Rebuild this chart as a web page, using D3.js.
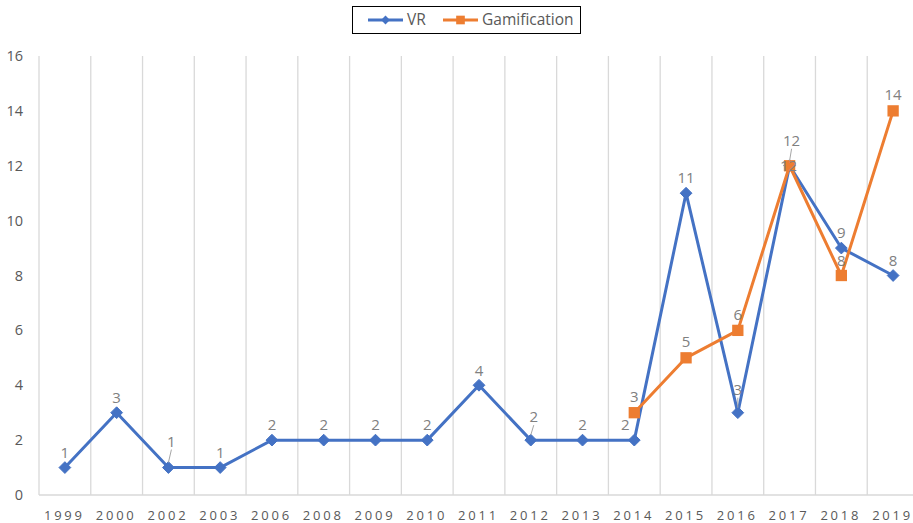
<!DOCTYPE html>
<html>
<head>
<meta charset="utf-8">
<script src="https://cdn.jsdelivr.net/npm/d3@7"></script>
<style>
  body { margin: 0; background: #fff; }
  svg { display: block; font-family: "Open Sans", "Liberation Sans", sans-serif; }
</style>
</head>
<body>
<div id="chart"></div>
<script>
const years = ["1999", "2000", "2002", "2003", "2006", "2008", "2009", "2010", "2011",
  "2012", "2013", "2014", "2015", "2016", "2017", "2018", "2019"]
const vrValues = [1, 3, 1, 1, 2, 2, 2, 2, 4, 2, 2, 2, 11, 3, 12, 9, 8]
const gamYears = ["2014", "2015", "2016", "2017", "2018", "2019"]
const gamValues = [3, 5, 6, 12, 8, 14]
const yTicks = [0, 2, 4, 6, 8, 10, 12, 14, 16]

// label nudges (px) for the crowded spots, [dx, dy, leader]
const vrLabelShift = { "2002": [3, -11, true], "2012": [3, -8, true], "2014": [-9, 0, false],
  "2016": [0, -8, true], "2017": [2, -10, true] }

const width = 913, height = 523
const margin = { top: 56, right: -6, bottom: 28, left: 39 }

const svg = d3.select("#chart").append("svg")
  .attr("width", width)
  .attr("height", height)

const x = d3.scaleBand()
  .domain(years)
  .range([margin.left, width - margin.right])

const y = d3.scaleLinear()
  .domain([0, 16])
  .range([height - margin.bottom, margin.top])

const cx = d => x(d) + x.bandwidth() / 2

// vertical gridlines at band edges
const edges = years.map(d => x(d))
svg.append("g").selectAll("line")
  .data(edges)
  .join("line")
    .attr("x1", d => d).attr("x2", d => d)
    .attr("y1", y(16)).attr("y2", y(0))
    .attr("stroke", "#d9d9d9")
    .attr("stroke-width", 1.3)

// bottom axis line
svg.append("line")
  .attr("x1", margin.left).attr("x2", width)
  .attr("y1", y(0)).attr("y2", y(0))
  .attr("stroke", "#d9d9d9")
  .attr("stroke-width", 1.3)

// y tick labels
svg.append("g").selectAll("text")
  .data(yTicks)
  .join("text")
    .attr("x", 23)
    .attr("y", d => y(d))
    .attr("dy", "0.35em")
    .attr("text-anchor", "end")
    .attr("fill", "#595959")
    .style("font-size", "14.5px")
    .text(d => d)

// x tick labels
svg.append("g").selectAll("text")
  .data(years)
  .join("text")
    .attr("x", d => cx(d) - 0.5)
    .attr("y", 515)
    .attr("dy", "0.35em")
    .attr("text-anchor", "middle")
    .attr("fill", "#595959")
    .style("font-size", "13px")
    .style("letter-spacing", "2.8px")
    .text(d => d)

const vrData = years.map((d, i) => ({ year: d, value: vrValues[i] }))
const gamData = gamYears.map((d, i) => ({ year: d, value: gamValues[i] }))

const line = d3.line()
  .x(d => cx(d.year))
  .y(d => y(d.value))

const diamond = d3.symbol().type(d3.symbolDiamond2).size(88)
const square = d3.symbol().type(d3.symbolSquare).size(128)

// VR series
svg.append("path")
  .datum(vrData)
  .attr("d", line)
  .attr("fill", "none")
  .attr("stroke", "#4472C4")
  .attr("stroke-width", 3)
  .attr("stroke-linejoin", "round")

svg.append("g").selectAll("path")
  .data(vrData)
  .join("path")
    .attr("d", diamond)
    .attr("transform", d => `translate(${cx(d.year)},${y(d.value)})`)
    .attr("fill", "#4472C4")
    .attr("stroke", "#4472C4")
    .attr("stroke-width", 1)

// Gamification series
svg.append("path")
  .datum(gamData)
  .attr("d", line)
  .attr("fill", "none")
  .attr("stroke", "#ED7D31")
  .attr("stroke-width", 3)
  .attr("stroke-linejoin", "round")

svg.append("g").selectAll("path")
  .data(gamData)
  .join("path")
    .attr("d", square)
    .attr("transform", d => `translate(${cx(d.year)},${y(d.value)})`)
    .attr("fill", "#ED7D31")

// data labels
const labels = svg.append("g")
  .attr("fill", "#808080")
  .style("font-size", "15px")
  .attr("text-anchor", "middle")

vrData.forEach(d => {
  const s = vrLabelShift[d.year] || [0, 0, false]
  const px = cx(d.year), py = y(d.value)
  const lx = px + s[0], ly = py - 15 + s[1]
  if (s[2]) {
    labels.append("line")
      .attr("x1", px).attr("y1", py - 5)
      .attr("x2", lx).attr("y2", ly + 8)
      .attr("stroke", "#a6a6a6")
      .attr("stroke-width", 1)
  }
  labels.append("text")
    .attr("x", lx)
    .attr("y", ly)
    .attr("dy", "0.35em")
    .text(d.value)
})

gamData.forEach(d => {
  const px = cx(d.year), py = y(d.value)
  const dy = d.year === "2017" ? 0 : d.year === "2018" ? -15 : -16
  labels.append("text")
    .attr("x", px + (d.year === "2017" ? -1 : 0))
    .attr("y", py + dy)
    .attr("dy", "0.35em")
    .text(d.value)
})

// legend
const legend = svg.append("g")
legend.append("rect")
  .attr("x", 352.5).attr("y", 6.5)
  .attr("width", 228).attr("height", 27)
  .attr("fill", "#fff")
  .attr("stroke", "#000")
  .attr("stroke-width", 1)

const legendItems = [
  { name: "VR", color: "#4472C4", x0: 368 },
  { name: "Gamification", color: "#ED7D31", x0: 443 }
]
legendItems.forEach(it => {
  legend.append("line")
    .attr("x1", it.x0).attr("x2", it.x0 + 35)
    .attr("y1", 20).attr("y2", 20)
    .attr("stroke", it.color)
    .attr("stroke-width", 3)
  legend.append("path")
    .attr("d", it.name === "VR" ? d3.symbol().type(d3.symbolDiamond2).size(50)() : d3.symbol().type(d3.symbolSquare).size(75)())
    .attr("transform", `translate(${it.x0 + 17.5},20)`)
    .attr("fill", it.color)
  legend.append("text")
    .attr("x", it.x0 + 39)
    .attr("y", 20)
    .attr("dy", "0.35em")
    .attr("fill", "#595959")
    .style("font-size", "15.5px")
    .text(it.name)
})
</script>
</body>
</html>
